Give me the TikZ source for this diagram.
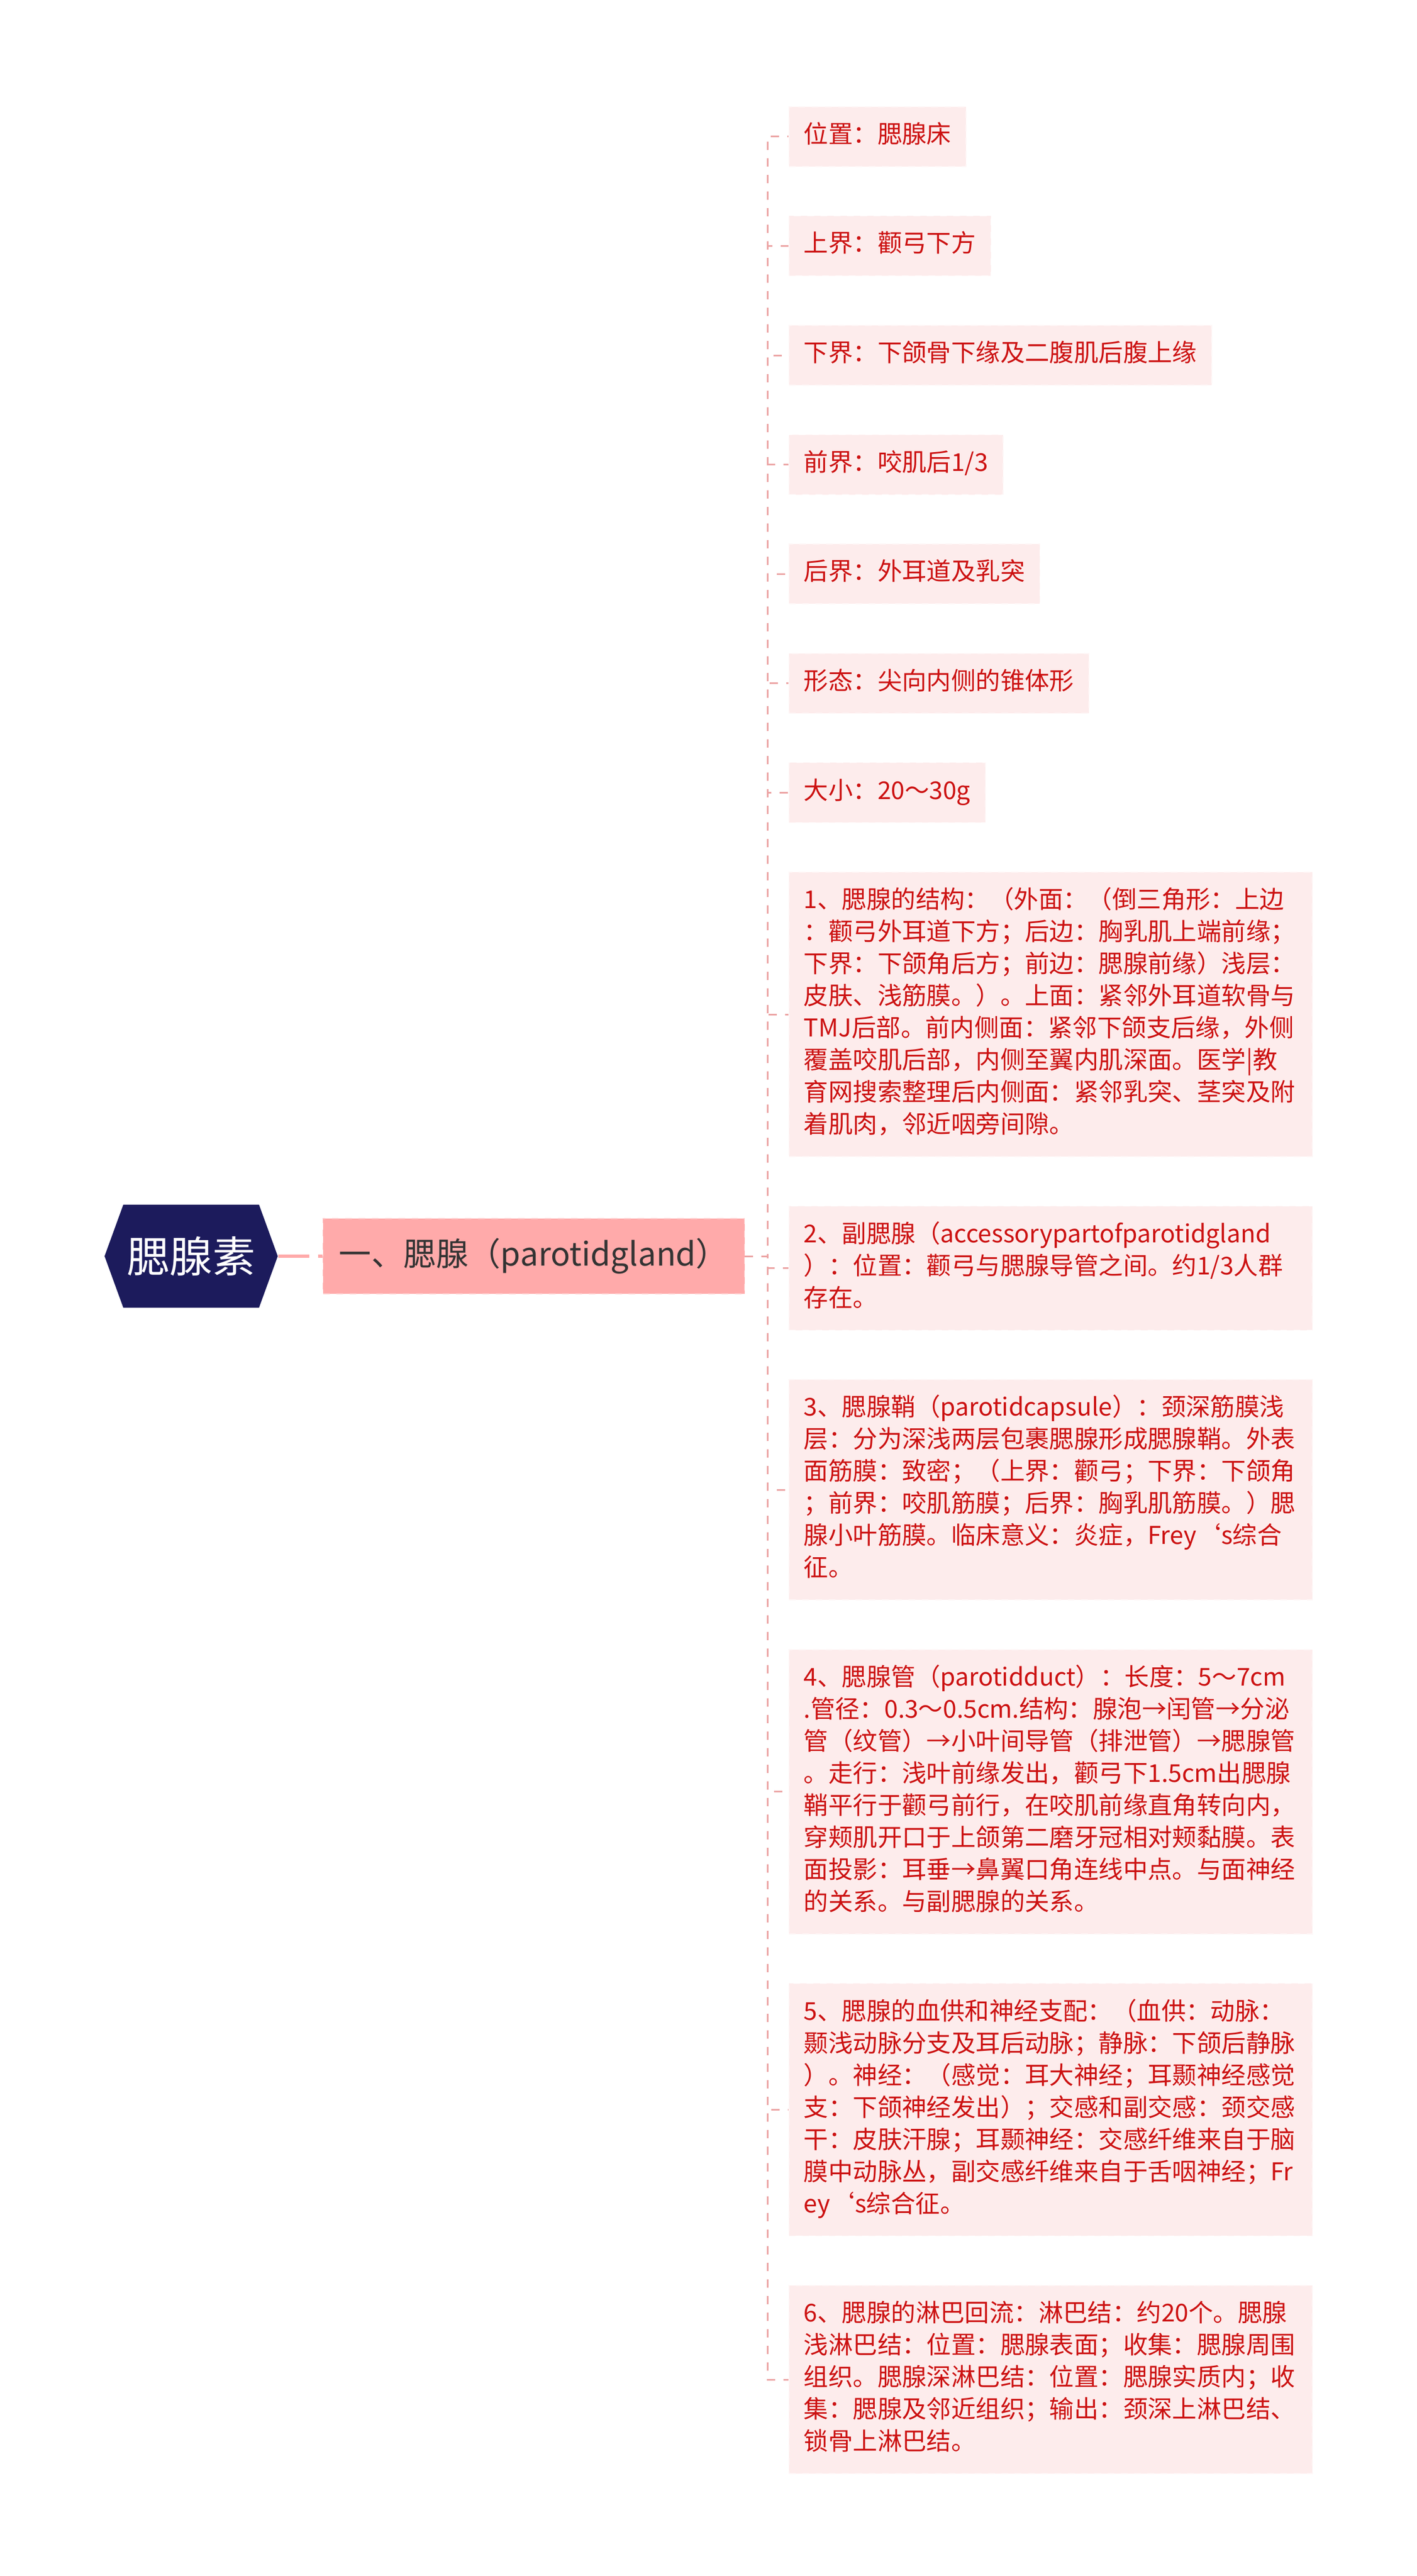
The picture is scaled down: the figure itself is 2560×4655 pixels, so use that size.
\documentclass[tikz,border=0pt]{standalone}
\usepackage{fontspec}
\setmainfont{Noto Sans CJK SC}
\usetikzlibrary{positioning,shapes.symbols}

\definecolor{rootblue}{RGB}{28,27,92}
\definecolor{branchpink}{RGB}{255,170,170}
\definecolor{leafpink}{RGB}{253,236,236}
\definecolor{leafred}{RGB}{204,17,17}
\definecolor{linkpink}{RGB}{236,164,164}
\definecolor{textgray}{RGB}{51,51,51}

\begin{document}
\begin{tikzpicture}[x=0.25pt, y=-0.25pt, node distance=22pt,
	root/.style={signal, signal to=west and east, signal pointer angle=140, fill=rootblue, text=white, minimum width=78.25pt, minimum height=46.5pt, inner sep=0pt, font=\fontsize{19.3}{23}\selectfont},
	branch/.style={rectangle, fill=branchpink, draw=branchpink!55!white, dashed, minimum width=190.5pt, minimum height=34pt, inner sep=0pt, text=textgray, font=\fontsize{14.6}{17}\selectfont},
	leaf/.style={rectangle, fill=leafpink, draw=leafpink!40!white, dashed, text=leafred, align=left, inner xsep=6.75pt, inner ysep=6.25pt, font=\fontsize{11.1}{14.5}\selectfont, execute at begin node=\strut, execute at end node=\strut},
	block/.style={leaf, text width=223pt},
	trunk/.style={draw=branchpink, line width=1.5pt, dash pattern=on 14pt off 4pt},
	link/.style={draw=linkpink, line width=0.75pt, dash pattern=on 3.75pt off 3.75pt}]
	\useasboundingbox (0,0) rectangle (2560,4655);

	% Nodes {root, gland, l1 ... l13}
	\node [root]	(root)	at (345.5,2270)			{腮腺素};
	\node [branch]	(gland)	[right=20pt of root]	{一、腮腺（parotidgland）};

	\node [leaf]	(l1)	at (1425,192) [anchor=north west]				{位置：腮腺床};
	\node [leaf]	(l2)	[below=of l1.south west, anchor=north west]		{上界：颧弓下方};
	\node [leaf]	(l3)	[below=of l2.south west, anchor=north west]		{下界：下颌骨下缘及二腹肌后腹上缘};
	\node [leaf]	(l4)	[below=of l3.south west, anchor=north west]		{前界：咬肌后1/3};
	\node [leaf]	(l5)	[below=of l4.south west, anchor=north west]		{后界：外耳道及乳突};
	\node [leaf]	(l6)	[below=of l5.south west, anchor=north west]		{形态：尖向内侧的锥体形};
	\node [leaf]	(l7)	[below=of l6.south west, anchor=north west]		{大小：20～30g};
	\node [block]	(l8)	[below=of l7.south west, anchor=north west]
		{1、腮腺的结构：（外面：（倒三角形：上边\\：颧弓外耳道下方；后边：胸乳肌上端前缘；\\下界：下颌角后方；前边：腮腺前缘）浅层：\\皮肤、浅筋膜。）。上面：紧邻外耳道软骨与\\TMJ后部。前内侧面：紧邻下颌支后缘，外侧\\覆盖咬肌后部，内侧至翼内肌深面。医学|教\\育网搜索整理后内侧面：紧邻乳突、茎突及附\\着肌肉，邻近咽旁间隙。};
	\node [block]	(l9)	[below=of l8.south west, anchor=north west]
		{2、副腮腺（accessorypartofparotidgland\\）：位置：颧弓与腮腺导管之间。约1/3人群\\存在。};
	\node [block]	(l10)	[below=of l9.south west, anchor=north west]
		{3、腮腺鞘（parotidcapsule）：颈深筋膜浅\\层：分为深浅两层包裹腮腺形成腮腺鞘。外表\\面筋膜：致密；（上界：颧弓；下界：下颌角\\；前界：咬肌筋膜；后界：胸乳肌筋膜。）腮\\腺小叶筋膜。临床意义：炎症，Frey‘s综合\\征。};
	\node [block]	(l11)	[below=of l10.south west, anchor=north west]
		{4、腮腺管（parotidduct）：长度：5～7cm\\.管径：0.3～0.5cm.结构：腺泡→闰管→分泌\\管（纹管）→小叶间导管（排泄管）→腮腺管\\。走行：浅叶前缘发出，颧弓下1.5cm出腮腺\\鞘平行于颧弓前行，在咬肌前缘直角转向内，\\穿颊肌开口于上颌第二磨牙冠相对颊黏膜。表\\面投影：耳垂→鼻翼口角连线中点。与面神经\\的关系。与副腮腺的关系。};
	\node [block]	(l12)	[below=of l11.south west, anchor=north west]
		{5、腮腺的血供和神经支配：（血供：动脉：\\颞浅动脉分支及耳后动脉；静脉：下颌后静脉\\）。神经：（感觉：耳大神经；耳颞神经感觉\\支：下颌神经发出）；交感和副交感：颈交感\\干：皮肤汗腺；耳颞神经：交感纤维来自于脑\\膜中动脉丛，副交感纤维来自于舌咽神经；Fr\\ey‘s综合征。};
	\node [block]	(l13)	[below=of l12.south west, anchor=north west]
		{6、腮腺的淋巴回流：淋巴结：约20个。腮腺\\浅淋巴结：位置：腮腺表面；收集：腮腺周围\\组织。腮腺深淋巴结：位置：腮腺实质内；收\\集：腮腺及邻近组织；输出：颈深上淋巴结、\\锁骨上淋巴结。};

	% Paths
	\path [trunk] (root.east) -- (gland.west);
	\foreach \n in {1,...,13}
		\path [link] (gland.east) -- ++(10.25pt,0) |- (l\n.west);

\end{tikzpicture}
\end{document}
